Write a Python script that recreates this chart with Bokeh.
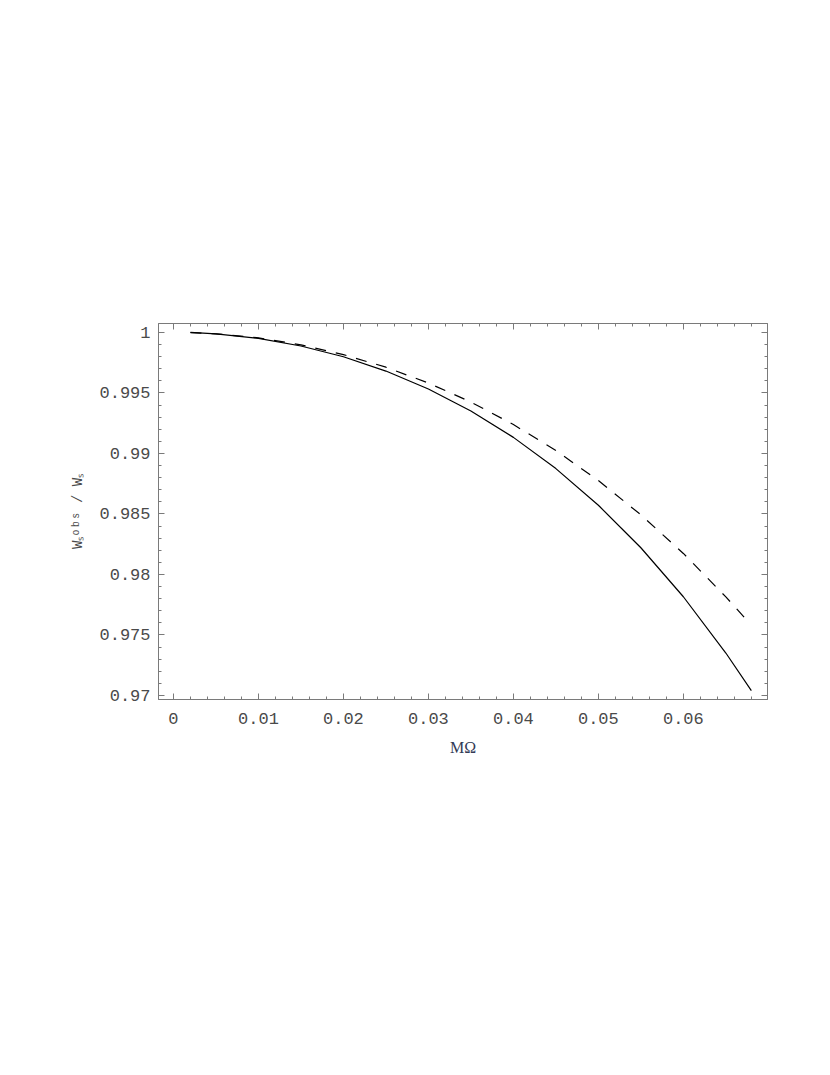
from bokeh.plotting import figure
from bokeh.models import LinearAxis, FixedTicker, Range1d
from bokeh.embed import file_html
from bokeh.resources import INLINE

# Data
solid_x = [0.002, 0.005, 0.010, 0.015, 0.020, 0.025, 0.030, 0.035, 0.040,
           0.045, 0.050, 0.055, 0.060, 0.065, 0.068]
solid_y = [1.00000, 0.99988, 0.99951, 0.99888, 0.99799, 0.99681, 0.99533,
           0.99351, 0.99133, 0.98875, 0.98572, 0.98221, 0.97816, 0.97351, 0.97041]

dashed_x = [0.002, 0.005, 0.010, 0.015, 0.020, 0.025, 0.030, 0.035, 0.040,
            0.045, 0.050, 0.055, 0.060, 0.065, 0.0675]
dashed_y = [0.99998, 0.99989, 0.99955, 0.99898, 0.99817, 0.99713, 0.99582,
            0.99425, 0.99239, 0.99024, 0.98776, 0.98493, 0.98174, 0.97815, 0.97620]

x_ticks = [0.0, 0.01, 0.02, 0.03, 0.04, 0.05, 0.06]
x_tick_labels = ["0", "0.01", "0.02", "0.03", "0.04", "0.05", "0.06"]
x_minor = [0.002, 0.004, 0.006, 0.008, 0.012, 0.014, 0.016, 0.018, 0.022, 0.024,
           0.026, 0.028, 0.032, 0.034, 0.036, 0.038, 0.042, 0.044, 0.046, 0.048,
           0.052, 0.054, 0.056, 0.058, 0.062, 0.064, 0.066, 0.068]

y_ticks = [0.97, 0.975, 0.98, 0.985, 0.99, 0.995, 1.0]
y_tick_labels = ["0.97", "0.975", "0.98", "0.985", "0.99", "0.995", "1"]
y_minor = [0.971, 0.972, 0.973, 0.974, 0.976, 0.977, 0.978, 0.979, 0.981, 0.982,
           0.983, 0.984, 0.986, 0.987, 0.988, 0.989, 0.991, 0.992, 0.993, 0.994,
           0.996, 0.997, 0.998, 0.999]

x_label = "MΩ"
y_label = "Wₛᵒᵇˢ / Wₛ"

FRAME = "#7a7a7a"
TXT = "#4a4a4a"
MONO = "Liberation Mono"

p = figure(frame_width=609, frame_height=376,
           min_border_left=158, min_border_top=323, min_border_right=40,
           min_border_bottom=40,
           x_range=Range1d(-0.00176, 0.0699), y_range=Range1d(0.96967, 1.00074),
           output_backend="svg", toolbar_location=None,
           x_axis_location=None, y_axis_location=None)
p.grid.visible = False
p.outline_line_color = FRAME
p.outline_line_width = 1
p.background_fill_color = "white"
p.border_fill_color = "white"

xt = FixedTicker(ticks=x_ticks, minor_ticks=x_minor)
yt = FixedTicker(ticks=y_ticks, minor_ticks=y_minor)


def style(ax, labels):
    ax.axis_line_color = FRAME
    ax.major_tick_line_color = FRAME
    ax.minor_tick_line_color = FRAME
    ax.major_tick_in = 6
    ax.major_tick_out = 0
    ax.minor_tick_in = 3
    ax.minor_tick_out = 0
    ax.major_label_text_font = MONO
    ax.major_label_text_font_size = "17px"
    ax.major_label_text_color = TXT
    if not labels:
        ax.major_label_text_font_size = "0px"
        ax.major_label_text_color = None


bottom = LinearAxis(ticker=xt, major_label_overrides=dict(zip(x_ticks, x_tick_labels)))
style(bottom, True)
bottom.major_label_standoff = 13
bottom.axis_label = x_label
bottom.axis_label_text_font = "Liberation Serif"
bottom.axis_label_text_font_style = "normal"
bottom.axis_label_text_font_size = "16px"
bottom.axis_label_text_color = "#333a55"
bottom.axis_label_standoff = 12
p.add_layout(bottom, "below")

left = LinearAxis(ticker=yt, major_label_overrides=dict(zip(y_ticks, y_tick_labels)))
style(left, True)
left.major_label_standoff = 8
left.axis_label = y_label
left.axis_label_text_font = MONO
left.axis_label_text_font_style = "normal"
left.axis_label_text_font_size = "14px"
left.axis_label_text_color = TXT
left.axis_label_standoff = 10
p.add_layout(left, "left")

top = LinearAxis(ticker=xt)
style(top, False)
p.add_layout(top, "above")

right = LinearAxis(ticker=yt)
style(right, False)
p.add_layout(right, "right")

p.line(solid_x, solid_y, line_color="black", line_width=1.2)
p.line(dashed_x, dashed_y, line_color="black", line_width=1.2, line_dash="11 10")

open("out.html", "w").write(file_html(p, INLINE))
